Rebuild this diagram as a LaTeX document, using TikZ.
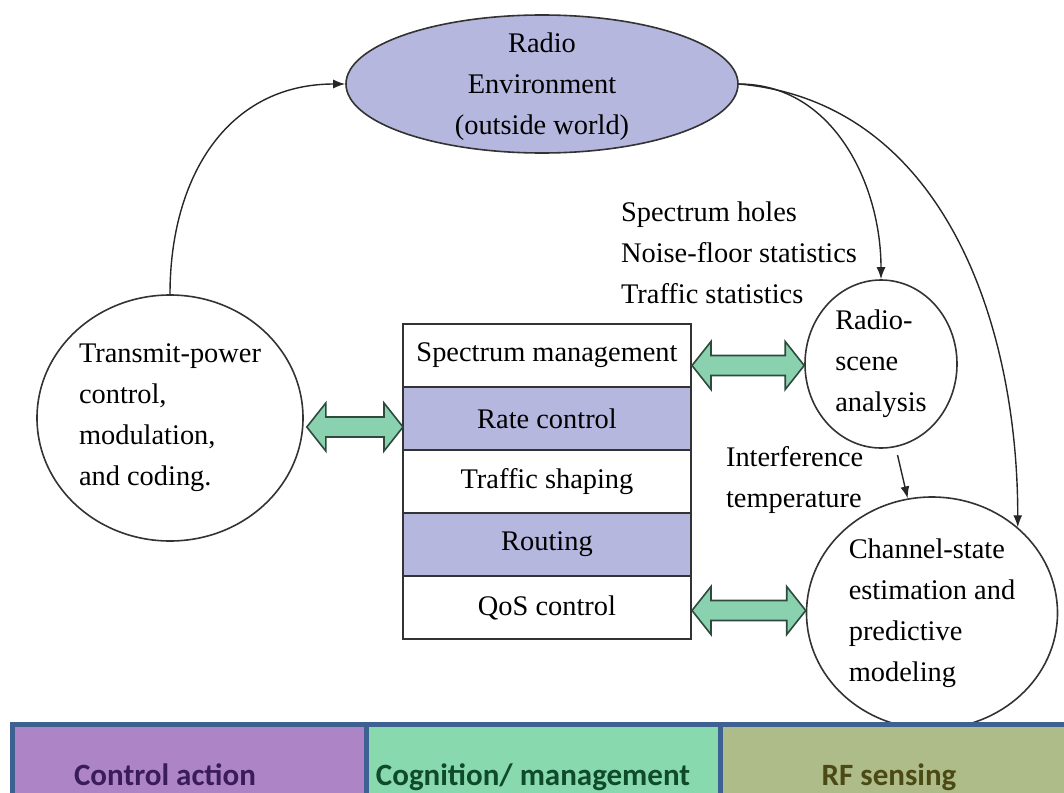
\documentclass[tikz,border=0pt]{standalone}
\usepackage{fontspec}
\setmainfont{Liberation Serif}
\newfontfamily\barfont{Carlito}
\usetikzlibrary{shapes.geometric,arrows.meta,positioning,calc}

\definecolor{lav}{HTML}{B5B7DE}
\definecolor{mint}{HTML}{8AD1B0}
\definecolor{mintdark}{HTML}{2E4A3C}
\definecolor{barline}{HTML}{3E6191}
\definecolor{actfill}{HTML}{AD85C6}
\definecolor{cogfill}{HTML}{88DAAE}
\definecolor{rffill}{HTML}{AEBC8A}
\definecolor{acttext}{HTML}{3A1B5C}
\definecolor{cogtext}{HTML}{0E4A2B}
\definecolor{rftext}{HTML}{4B4A15}

% fat two-headed arrow between two points, y taken from the first one
\newcommand{\dblarrow}[2]{%
  \path[bsty] let \p1=#1, \p2=#2 in
    (\x1,\y1) -- (\x1+9.5pt,\y1+12pt) -- (\x1+9.5pt,\y1+5pt)
    -- (\x2-9.5pt,\y1+5pt) -- (\x2-9.5pt,\y1+12pt) -- (\x2,\y1)
    -- (\x2-9.5pt,\y1-12pt) -- (\x2-9.5pt,\y1-5pt)
    -- (\x1+9.5pt,\y1-5pt) -- (\x1+9.5pt,\y1-12pt) -- cycle;}

\begin{document}
\begin{tikzpicture}
                [x=0.5pt, y=-0.5pt,
                txt/.style={font=\fontsize{14.2}{20.5}\selectfont},
                csty/.style={ellipse, draw=black!80, line width=0.8pt, inner sep=0pt, align=left, txt},
                rsty/.style={rectangle, draw=black!80, line width=1pt, minimum width=144pt, minimum height=31.5pt, inner sep=0pt, outer sep=0pt, align=center, txt},
                asty/.style={-{Latex[length=6pt,width=4.5pt]}, line width=0.7pt, black!85},
                bsty/.style={draw=mintdark, fill=mint, line width=0.8pt},
                barsty/.style={rectangle, draw=barline, line width=2.5pt, minimum width=177pt, minimum height=53pt, inner sep=0pt, outer sep=0pt, text height=11pt, text depth=3pt, font=\barfont\bfseries\fontsize{15.5}{18}\selectfont}]
                \useasboundingbox (0,0) rectangle (1064,792);
                % outside world
                \node[csty, fill=lav, align=center, minimum width=196pt, minimum height=69pt, inner ysep=-4pt] (env) at (542,84) {\\[-8pt]Radio\\Environment\\(outside world)};
                % the three circles
                \node[csty, minimum width=133pt, minimum height=123pt] (tpc) at (170,418) {Transmit-power\\control,\\modulation,\\and coding.};
                \node[csty, minimum width=76pt, minimum height=84pt] (scene) at (881,364) {Radio-\\scene\\analysis};
                \node[csty, minimum width=125.5pt, minimum height=116pt] (chan) at (932,613) {Channel-state\\estimation and\\predictive\\modeling};
                % layer stack
                \node[rsty] (spec) at (547,355.5) {Spectrum management};
                \node[rsty, fill=lav, below=0pt of spec] (rate) {Rate control};
                \node[rsty, below=0pt of rate] (shape) {Traffic shaping};
                \node[rsty, fill=lav, below=0pt of shape] (route) {Routing};
                \node[rsty, below=0pt of route] (qos) {QoS control};
                % side notes
                \node[txt, align=left, anchor=west] (holes) at (614,253) {Spectrum holes\\Noise-floor statistics\\Traffic statistics};
                \node[txt, align=left, anchor=west] (interf) at (719,480) {Interference\\temperature};
                % loop arrows
                \draw[asty] (tpc.north) to[out=90, in=180, looseness=1.1] (env.west);
                \draw[asty] (env.east) to[out=0, in=90] (scene.north);
                \draw[asty] (env.east) to[out=-5, in=90] (chan.45);
                \draw[asty, shorten <=4pt] (scene.-80) -- (chan.102);
                % two-way exchanges
                \dblarrow{($(tpc.east)+(3,9)$)}{(rate.west)}
                \dblarrow{($(spec.east)+(1,10)$)}{(scene.west)}
                \dblarrow{($(qos.east)+(1,3)$)}{(chan.west)}
                % legend bar
                \node[barsty, fill=actfill, text=acttext] (act) at (189,777) {Control action\hspace*{24pt}};
                \node[barsty, fill=cogfill, text=cogtext, right=0pt of act] (cog) {Cognition/ management\hspace*{10pt}};
                \node[barsty, fill=rffill, text=rftext, right=0pt of cog] (rf) {RF sensing\hspace*{8pt}};
\end{tikzpicture}
\end{document}
